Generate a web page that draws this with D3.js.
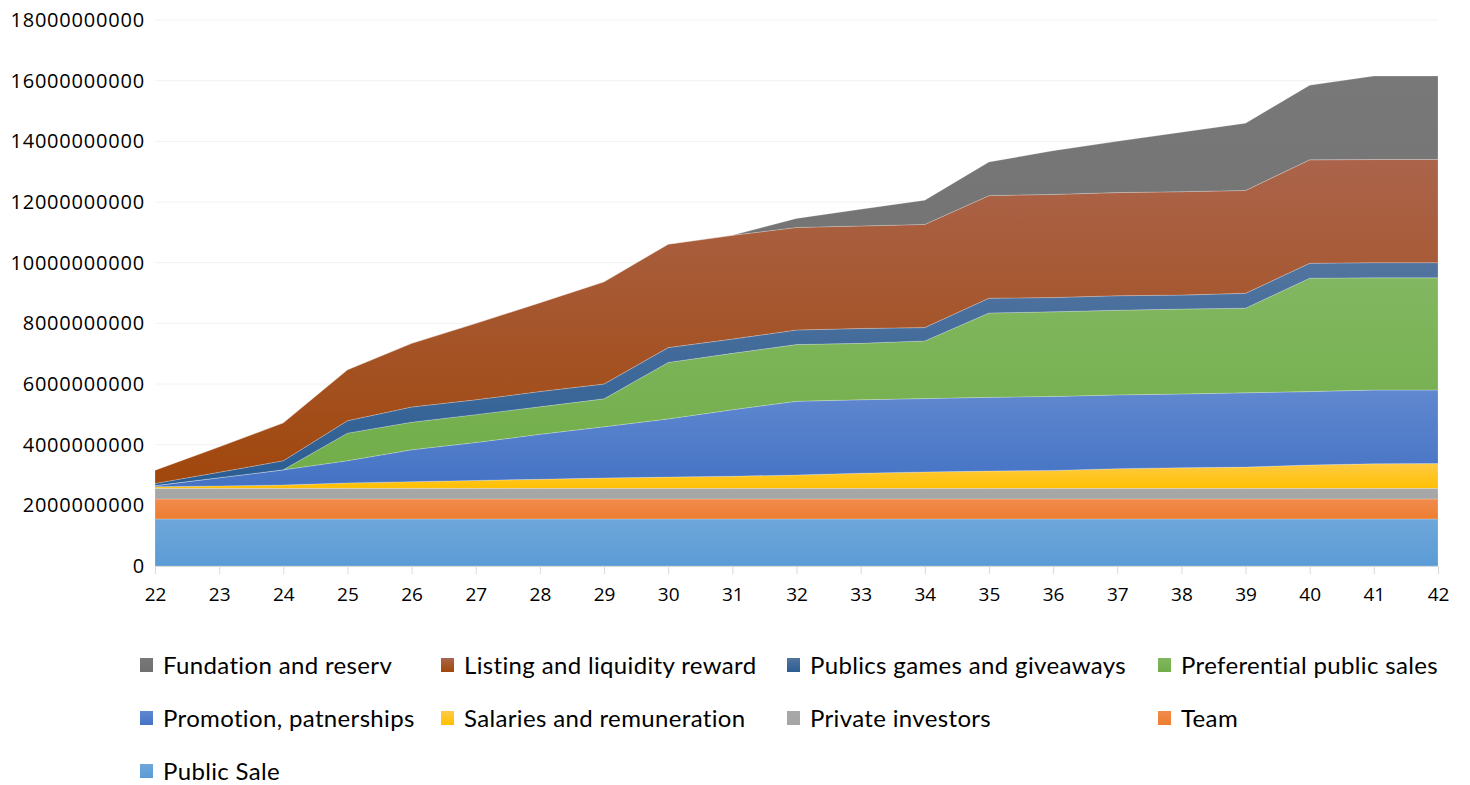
<!DOCTYPE html>
<html>
<head>
<meta charset="utf-8">
<script src="https://cdn.jsdelivr.net/npm/d3@7"></script>
<style>
  html, body { margin: 0; padding: 0; background: #ffffff; }
  svg { display: block; }
</style>
</head>
<body>
<svg id="chart" width="1470" height="785"></svg>
<script>
// ---------- DATA (values in billions of tokens) ----------
const categories = [22,23,24,25,26,27,28,29,30,31,32,33,34,35,36,37,38,39,40,41,42];

const publicSale   = [1.55,1.55,1.55,1.55,1.55,1.55,1.55,1.55,1.55,1.55,1.55,1.55,1.55,1.55,1.55,1.55,1.55,1.55,1.55,1.55,1.55];
const team         = [0.66,0.66,0.66,0.66,0.66,0.66,0.66,0.66,0.66,0.66,0.66,0.66,0.66,0.66,0.66,0.66,0.66,0.66,0.66,0.66,0.66];
const privateInv   = [0.35,0.35,0.35,0.35,0.35,0.35,0.35,0.35,0.35,0.35,0.35,0.35,0.35,0.35,0.35,0.35,0.35,0.35,0.35,0.35,0.35];
const salaries     = [0.05,0.08,0.11,0.18,0.22,0.26,0.30,0.34,0.37,0.40,0.44,0.50,0.54,0.57,0.59,0.65,0.68,0.70,0.77,0.81,0.82];
const promotion    = [0.04,0.27,0.50,0.73,1.05,1.25,1.48,1.69,1.92,2.19,2.43,2.42,2.42,2.43,2.44,2.43,2.43,2.45,2.42,2.43,2.42];
const preferential = [0.00,0.00,0.00,0.91,0.91,0.92,0.91,0.92,1.86,1.86,1.87,1.86,1.90,2.78,2.79,2.79,2.80,2.79,3.74,3.70,3.70];
const games        = [0.07,0.18,0.30,0.41,0.50,0.49,0.50,0.49,0.49,0.47,0.48,0.49,0.44,0.49,0.47,0.48,0.46,0.49,0.49,0.50,0.50];
const listing      = [0.44,0.84,1.25,1.68,2.10,2.52,2.93,3.37,3.41,3.42,3.38,3.38,3.40,3.38,3.40,3.40,3.41,3.39,3.41,3.40,3.40];
const fundation    = [0,0,0,0,0,0,0,0,0,0,0.30,0.55,0.80,1.11,1.44,1.69,1.96,2.22,2.46,2.75,2.75];

const seriesNames = ["Public Sale","Team","Private investors","Salaries and remuneration",
  "Promotion, patnerships","Preferential public sales","Publics games and giveaways",
  "Listing and liquidity reward","Fundation and reserv"];
const seriesValues = [publicSale, team, privateInv, salaries, promotion, preferential, games, listing, fundation];

const yTicks = [0,2e9,4e9,6e9,8e9,10e9,12e9,14e9,16e9,18e9];

// legend order (Excel reversed)
const legendOrder = ["Fundation and reserv","Listing and liquidity reward","Publics games and giveaways",
  "Preferential public sales","Promotion, patnerships","Salaries and remuneration",
  "Private investors","Team","Public Sale"];

// ---------- STYLE ----------
const colors = {
  "Public Sale":                  ["#6ea7da", "#5b9bd5"],
  "Team":                         ["#f18b4d", "#ed7d31"],
  "Private investors":            ["#a8a8a8", "#a5a5a5"],
  "Salaries and remuneration":    ["#ffca45", "#ffc000"],
  "Promotion, patnerships":       ["#6088cf", "#4472c4"],
  "Preferential public sales":    ["#82b761", "#70ad47"],
  "Publics games and giveaways":  ["#52749f", "#2a5d93"],
  "Listing and liquidity reward": ["#ab644b", "#a0470c"],
  "Fundation and reserv":         ["#787878", "#6f6f6f"]
};

const svg = d3.select("#chart");
const defs = svg.append("defs");
seriesNames.forEach((n, i) => {
  const g = defs.append("linearGradient").attr("id", "grad" + i)
    .attr("x1", 0).attr("y1", 0).attr("x2", 0).attr("y2", 1);
  g.append("stop").attr("offset", "0%").attr("stop-color", colors[n][0]);
  g.append("stop").attr("offset", "100%").attr("stop-color", colors[n][1]);
});

const plotLeft = 155, plotRight = 1438, plotTop = 20, plotBottom = 566;

const x = d3.scalePoint().domain(categories).range([plotLeft, plotRight]);
const y = d3.scaleLinear().domain([0, 18e9]).range([plotBottom, plotTop]);

// table for stack
const table = categories.map((c, i) => {
  const row = { cat: c };
  seriesNames.forEach((n, k) => row[n] = seriesValues[k][i] * 1e9);
  return row;
});
const stack = d3.stack().keys(seriesNames);
const layers = stack(table);

// gridlines
svg.append("g").selectAll("line").data(yTicks.filter(d => d > 0)).join("line")
  .attr("x1", plotLeft).attr("x2", plotRight)
  .attr("y1", d => y(d)).attr("y2", d => y(d))
  .attr("stroke", "#f2f2f2").attr("stroke-width", 1);

// areas
const area = d3.area()
  .x(d => x(d.data.cat))
  .y0(d => y(d[0]))
  .y1(d => y(d[1]));

svg.append("g").selectAll("path").data(layers).join("path")
  .attr("d", area)
  .attr("fill", (d, i) => "url(#grad" + i + ")")
  .attr("stroke", "rgba(255,255,255,0.35)")
  .attr("stroke-width", 0.6);

// y axis
const yAxis = d3.axisLeft(y).tickValues(yTicks).tickFormat(d3.format("d")).tickSize(0).tickPadding(10);
const yg = svg.append("g").attr("transform", `translate(${plotLeft},0)`).call(yAxis);
yg.select(".domain").remove();
yg.selectAll("text")
  .attr("font-family", "'Open Sans', sans-serif")
  .attr("font-size", 20)
  .attr("letter-spacing", "0.8px")
  .attr("fill", "#000");

// x axis
const xAxis = d3.axisBottom(x).tickSize(8).tickPadding(14);
const xg = svg.append("g").attr("transform", `translate(0,${plotBottom})`).call(xAxis);
xg.select(".domain").attr("stroke", "#d9d9d9");
xg.selectAll(".tick line").attr("stroke", "#d9d9d9");
xg.selectAll("text")
  .attr("font-family", "'Open Sans', sans-serif")
  .attr("font-size", 19)
  .attr("fill", "#000");

// legend
const legendCols = [140, 441, 787, 1158];
const legendRows = [665, 718, 771];
const lg = svg.append("g");
legendOrder.forEach((n, i) => {
  const col = i % 4, row = Math.floor(i / 4);
  const k = seriesNames.indexOf(n);
  const gx = legendCols[col], gy = legendRows[row];
  lg.append("rect").attr("x", gx).attr("y", gy - 7).attr("width", 13).attr("height", 14)
    .attr("fill", "url(#grad" + k + ")");
  lg.append("text").attr("x", gx + 23).attr("y", gy).attr("dy", "0.36em")
    .attr("font-family", "Lato, 'Open Sans', sans-serif")
    .attr("font-size", 24)
    .attr("letter-spacing", "0.35px")
    .attr("fill", "#000")
    .text(n);
});
</script>
</body>
</html>
